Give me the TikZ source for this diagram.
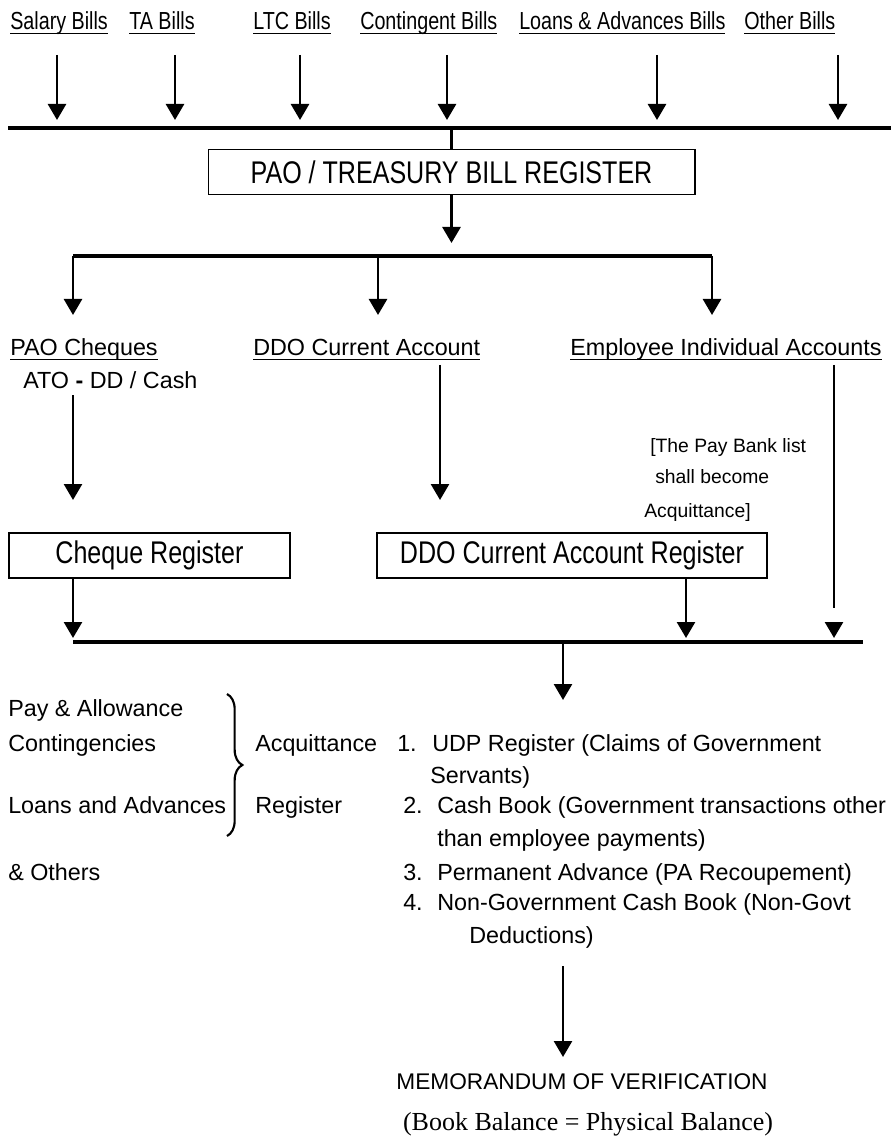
\documentclass[tikz,border=0pt]{standalone}
\usepackage{fontspec}
\setmainfont{Liberation Sans}
\newfontfamily\condfont[FakeStretch=0.8]{Liberation Sans}
\newfontfamily\timesfont{Liberation Serif}
\usetikzlibrary{arrows.meta,decorations.pathreplacing}
\newcommand{\myul}[1]{\setbox0\hbox{#1}\rlap{\rule[-3pt]{\wd0}{0.9pt}}\box0}
\tikzset{
  flow/.style={line width=2pt,-{Triangle[width=13.5pt,length=12pt]}},
  bus/.style={line width=2.5pt},
  plain/.style={line width=2pt},
  regbox/.style={draw,line width=1pt,minimum height=33.75pt,inner sep=0pt,font=\condfont\fontsize{23.5}{27}\selectfont},
  toplbl/.style={anchor=base west,inner sep=0pt,font=\condfont\fontsize{18.5}{22}\selectfont},
  midlbl/.style={anchor=base west,inner sep=0pt,font=\fontsize{17.5}{20}\selectfont},
  txt/.style={anchor=base west,inner sep=0pt,font=\fontsize{17.5}{20}\selectfont},
  note/.style={anchor=base west,inner sep=0pt,font=\fontsize{14.5}{17}\selectfont},
}
\begin{document}
\begin{tikzpicture}[x=0.75pt,y=-0.75pt]
\useasboundingbox (0,0) rectangle (891,1144);
% top labels
\node[toplbl] (sal) at (10,30) {\myul{Salary Bills}};
\node[toplbl] (ta) at (129,30) {\myul{TA Bills}};
\node[toplbl] (ltc) at (253,30) {\myul{LTC Bills}};
\node[toplbl] (con) at (360,30) {\myul{Contingent Bills}};
\node[toplbl] (loa) at (519,30) {\myul{Loans \& Advances Bills}};
\node[toplbl] (oth) at (744,30) {\myul{Other Bills}};
% top arrows
\foreach \n/\x in {1/57,2/175,3/300,4/447,5/657,6/838}{
  \coordinate (ts\n) at (\x,55);
  \coordinate (te\n) at (\x,120);
  \draw[flow] (ts\n) -- (te\n);
}
\coordinate (bus1L) at (8,128);
\coordinate (bus1R) at (891,128);
\draw[bus] (bus1L) -- (bus1R);
% PAO box
\node[regbox,minimum width=365pt] (pao) at (451.5,172) {PAO / TREASURY BILL REGISTER};
\coordinate (paoIn) at (451.5,128);
\draw[plain] (paoIn) -- (pao.north);
\coordinate (paoTip) at (451.5,243);
\draw[flow] (pao.south) -- (paoTip);
% branch
\coordinate (br1) at (73,256);
\coordinate (br2) at (378,256);
\coordinate (br3) at (712,256);
\draw[bus] (br1) -- (br3);
\coordinate (bt1) at (73,315);
\coordinate (bt2) at (378,315);
\coordinate (bt3) at (712,315);
\draw[flow] (br1) -- (bt1);
\draw[flow] (br2) -- (bt2);
\draw[flow] (br3) -- (bt3);
% branch labels
\node[midlbl] (pc) at (10,356) {\myul{PAO Cheques}};
\node[midlbl] (ato) at (23,388) {ATO {\bfseries -} DD / Cash};
\node[midlbl] (ddo) at (253,356) {\myul{DDO Current Account}};
\node[midlbl] (emp) at (570,356) {\myul{Employee Individual Accounts}};
% note
\node[note] (n1) at (650,452) {[The Pay Bank list};
\node[note] (n2) at (655,483) {shall become};
\node[note] (n3) at (644,517) {Acquittance]};
% registers
\node[regbox,minimum width=210.75pt] (chq) at (149.5,555.5) {Cheque Register};
\node[regbox,minimum width=292.5pt] (dreg) at (572,555.5) {DDO Current Account Register};
% down arrows
\coordinate (pcS) at (73,395);
\coordinate (pcE) at (73,500);
\draw[flow] (pcS) -- (pcE);
\coordinate (ddS) at (440,365);
\coordinate (ddE) at (440,500);
\draw[flow] (ddS) -- (ddE);
\coordinate (emS) at (834,365);
\coordinate (emE) at (834,608);
\draw[plain] (emS) -- (emE);
\coordinate (emA) at (834,622);
\coordinate (emT) at (834,638);
\draw[flow] (emA) -- (emT);
\coordinate (chS) at (73,578);
\coordinate (chE) at (73,638);
\draw[flow] (chS) -- (chE);
\coordinate (drS) at (686,578);
\coordinate (drE) at (686,638);
\draw[flow] (drS) -- (drE);
% bottom bus
\coordinate (bus2L) at (73,642);
\coordinate (bus2R) at (863,642);
\draw[bus] (bus2L) -- (bus2R);
\coordinate (b2S) at (563,642);
\coordinate (b2E) at (563,700);
\draw[flow] (b2S) -- (b2E);
% left block
\node[txt] (pa) at (8,716) {Pay \& Allowance};
\node[txt] (ct) at (8,751) {Contingencies};
\node[txt] (la) at (8,813) {Loans and Advances};
\node[txt] (ot) at (8,880) {\& Others};
\draw[line width=1.6pt,decorate,decoration={brace,amplitude=11.5pt}] (227,694) -- (227,836);
\node[txt] (acq) at (255,751) {Acquittance};
\node[txt] (reg) at (255,813) {Register};
% list
\node[txt] (l1n) at (397,751) {1.};
\node[txt] (l1) at (432,751) {UDP Register (Claims of Government};
\node[txt] (l1b) at (430,783) {Servants)};
\node[txt] (l2n) at (403,813) {2.};
\node[txt] (l2) at (437,813) {Cash Book (Government transactions other};
\node[txt] (l2b) at (437,846) {than employee payments)};
\node[txt] (l3n) at (403,880) {3.};
\node[txt] (l3) at (437,880) {Permanent Advance (PA Recoupement)};
\node[txt] (l4n) at (403,910) {4.};
\node[txt] (l4) at (437,910) {Non-Government Cash Book (Non-Govt};
\node[txt] (l4b) at (469,943) {Deductions)};
% final
\coordinate (fS) at (563,966);
\coordinate (fE) at (563,1057);
\draw[flow] (fS) -- (fE);
\node[inner sep=0pt,font=\fontsize{17}{20}\selectfont] (memo) at (582,1082) {MEMORANDUM OF VERIFICATION};
\node[inner sep=0pt,font=\timesfont\fontsize{19.5}{22}\selectfont] (bal) at (588,1124) {(Book Balance = Physical Balance)};
\end{tikzpicture}
\end{document}
